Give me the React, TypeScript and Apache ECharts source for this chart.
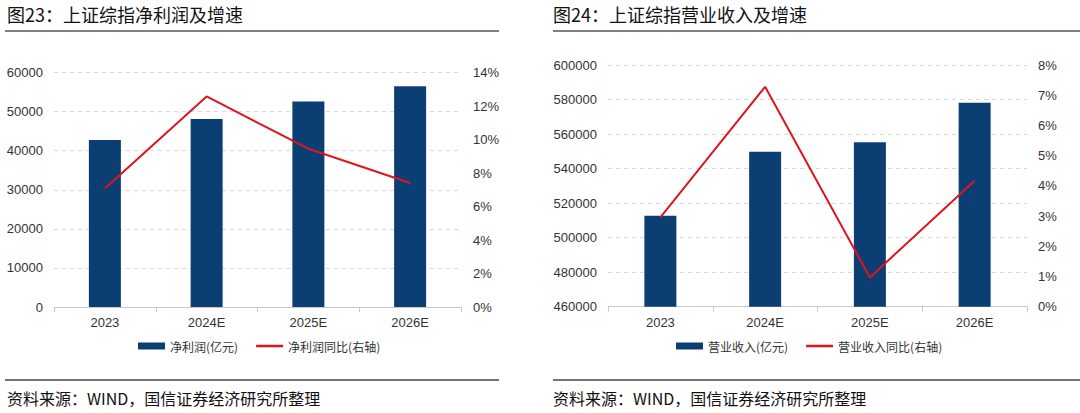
import React, { useEffect, useRef } from "react";
import * as echarts from "echarts";

const categories = ["2023", "2024E", "2025E", "2026E"];
const netProfit = [42700, 48100, 52600, 56500];
const netProfitYoY = [7.07, 12.57, 9.45, 7.4];
const revenue = [512700, 549800, 555200, 578200];
const revenueYoY = [2.96, 7.28, 0.97, 4.17];

const titleLeft = "图23：上证综指净利润及增速";
const titleRight = "图24：上证综指营业收入及增速";
const sourceText = "资料来源：WIND，国信证券经济研究所整理";
const legendNames = ["净利润(亿元)", "净利润同比(右轴)", "营业收入(亿元)", "营业收入同比(右轴)"];

const BAR = "#0b3f74";
const RED = "#e0141e";
const FONT = "'Noto Sans CJK SC', 'Noto Sans', sans-serif";
const LABEL_FONT = "'Liberation Sans', Arial, sans-serif";
const LINE_ICON = "path://M0,0h28v2.6h-28z";

export default function App() {
  const ref = useRef<HTMLDivElement>(null);
  useEffect(() => {
    if (!ref.current) return;
    const chart = echarts.init(ref.current, undefined, { renderer: "svg" });
    const axisLabel = { color: "#333", fontSize: 13, fontFamily: LABEL_FONT };
    const plain = (v: number) => String(v);
    const splitLine = { show: true, lineStyle: { color: "#d9d9d9", type: [4, 4] as any, width: 1 } };
    const xAxisBase = {
      type: "category" as const,
      data: categories,
      axisLine: { show: true, lineStyle: { color: "#c8c8c8", width: 1 } },
      axisTick: { show: true, length: 5, lineStyle: { color: "#c8c8c8" } },
      axisLabel: { ...axisLabel, margin: 9 },
    };
    const legendText = { fontSize: 12, color: "#333", fontFamily: FONT };
    chart.setOption({
      animation: false,
      grid: [
        { left: 54, right: 619, top: 72.5, bottom: 106 },
        { left: 608, right: 53, top: 65, bottom: 106.3 },
      ],
      xAxis: [
        { ...xAxisBase, gridIndex: 0 },
        { ...xAxisBase, gridIndex: 1 },
      ],
      yAxis: [
        {
          type: "value", gridIndex: 0, min: 0, max: 60000, interval: 10000,
          axisLine: { show: false }, axisTick: { show: false },
          axisLabel: { ...axisLabel, margin: 11, formatter: plain }, splitLine,
        },
        {
          type: "value", gridIndex: 0, min: 0, max: 14, interval: 2, position: "right",
          axisLine: { show: false }, axisTick: { show: false },
          axisLabel: { ...axisLabel, margin: 12, formatter: "{value}%" }, splitLine: { show: false },
        },
        {
          type: "value", gridIndex: 1, min: 460000, max: 600000, interval: 20000,
          axisLine: { show: false }, axisTick: { show: false },
          axisLabel: { ...axisLabel, margin: 11, formatter: plain }, splitLine,
        },
        {
          type: "value", gridIndex: 1, min: 0, max: 8, interval: 1, position: "right",
          axisLine: { show: false }, axisTick: { show: false },
          axisLabel: { ...axisLabel, margin: 11, formatter: "{value}%" }, splitLine: { show: false },
        },
      ],
      legend: [
        {
          data: [
            { name: legendNames[0], icon: "rect" },
            { name: legendNames[1], icon: LINE_ICON },
          ],
          left: 133, top: 335, itemWidth: 27, itemHeight: 7, itemGap: 18,
          textStyle: legendText,
        },
        {
          data: [
            { name: legendNames[2], icon: "rect" },
            { name: legendNames[3], icon: LINE_ICON },
          ],
          left: 671, top: 335, itemWidth: 27, itemHeight: 7, itemGap: 18,
          textStyle: legendText,
        },
      ],
      series: [
        {
          name: legendNames[0], type: "bar", xAxisIndex: 0, yAxisIndex: 0,
          data: netProfit, barWidth: 32, itemStyle: { color: BAR },
        },
        {
          name: legendNames[1], type: "line", xAxisIndex: 0, yAxisIndex: 1,
          data: netProfitYoY, symbol: "none", lineStyle: { color: RED, width: 2 }, itemStyle: { color: RED },
        },
        {
          name: legendNames[2], type: "bar", xAxisIndex: 1, yAxisIndex: 2,
          data: revenue, barWidth: 32, itemStyle: { color: BAR },
        },
        {
          name: legendNames[3], type: "line", xAxisIndex: 1, yAxisIndex: 3,
          data: revenueYoY, symbol: "none", lineStyle: { color: RED, width: 2 }, itemStyle: { color: RED },
        },
      ],
      graphic: [
        { type: "text", left: 7, top: 5, style: { text: titleLeft, fontSize: 18, fill: "#111", fontFamily: FONT } },
        { type: "text", left: 553, top: 5, style: { text: titleRight, fontSize: 18, fill: "#111", fontFamily: FONT } },
        { type: "line", shape: { x1: 5, y1: 31, x2: 499, y2: 31 }, style: { stroke: "#555", lineWidth: 1.5 } },
        { type: "line", shape: { x1: 553, y1: 31, x2: 1080, y2: 31 }, style: { stroke: "#555", lineWidth: 1.5 } },
        { type: "line", shape: { x1: 5, y1: 380, x2: 499, y2: 380 }, style: { stroke: "#444", lineWidth: 1.5 } },
        { type: "line", shape: { x1: 553, y1: 380, x2: 1080, y2: 380 }, style: { stroke: "#444", lineWidth: 1.5 } },
        { type: "text", left: 7, top: 390, style: { text: sourceText, fontSize: 16, fill: "#111", fontFamily: FONT } },
        { type: "text", left: 553, top: 390, style: { text: sourceText, fontSize: 16, fill: "#111", fontFamily: FONT } },
      ],
    });
    return () => chart.dispose();
  }, []);
  return (
    <div
      ref={ref}
      style={{ position: "fixed", left: 0, top: 0, width: 1080, height: 413, background: "#fff" }}
    />
  );
}
